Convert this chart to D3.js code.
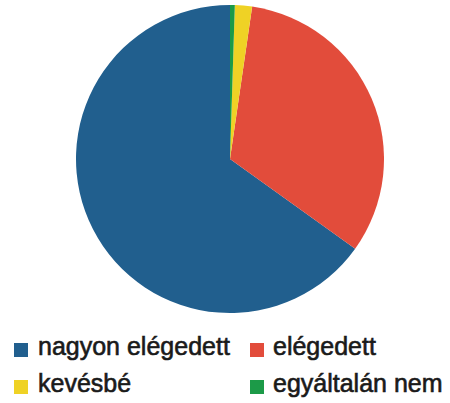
<!DOCTYPE html>
<html>
<head>
<meta charset="utf-8">
<script src="https://cdn.jsdelivr.net/npm/d3@7"></script>
<style>
  body { margin: 0; background: #fff; }
  svg { display: block; }
</style>
</head>
<body>
<svg id="chart"></svg>
<script>
let width = 450;
let height = 403;

// data
let categories = ["nagyon elégedett", "elégedett", "kevésbé", "egyáltalán nem"];
let values = [65.1, 32.6, 1.8, 0.5];
let colors = ["#215f8e", "#e24c3b", "#efd225", "#1c9a48"];

let svg = d3.select("#chart")
    .attr("width", width)
    .attr("height", height);

// slices run counterclockwise from 12 o'clock
let pie = d3.pie()
    .sort(null)
    .startAngle(0)
    .endAngle(-2 * Math.PI)
    .value(d => d.value);

let arc = d3.arc()
    .innerRadius(0)
    .outerRadius(154);

let data = categories.map((c, i) => ({name: c, value: values[i]}));
let color = d3.scaleOrdinal().domain(categories).range(colors);

svg.append("g")
    .attr("transform", "translate(230,159)")
    .selectAll("path")
    .data(pie(data))
    .enter().append("path")
    .attr("d", arc)
    .attr("fill", d => color(d.data.name));

// legend, two columns
let legend = svg.append("g")
    .selectAll("g")
    .data(categories)
    .enter().append("g")
    .attr("transform", (d, i) => "translate(" + (i % 2 ? 250 : 14) + "," + (i < 2 ? 355 : 392) + ")");

legend.append("rect")
    .attr("x", 0)
    .attr("y", -12)
    .attr("width", 14)
    .attr("height", 14)
    .attr("fill", d => color(d));

legend.append("text")
    .attr("x", (d, i) => i % 2 ? 23 : 24)
    .attr("y", 0)
    .style("font-family", "'Liberation Sans', Arial, sans-serif")
    .style("font-size", "25px")
    .style("fill", "#1a1a1a")
    .style("stroke", "#1a1a1a")
    .style("stroke-width", 0.6)
    .text(d => d);
</script>
</body>
</html>
